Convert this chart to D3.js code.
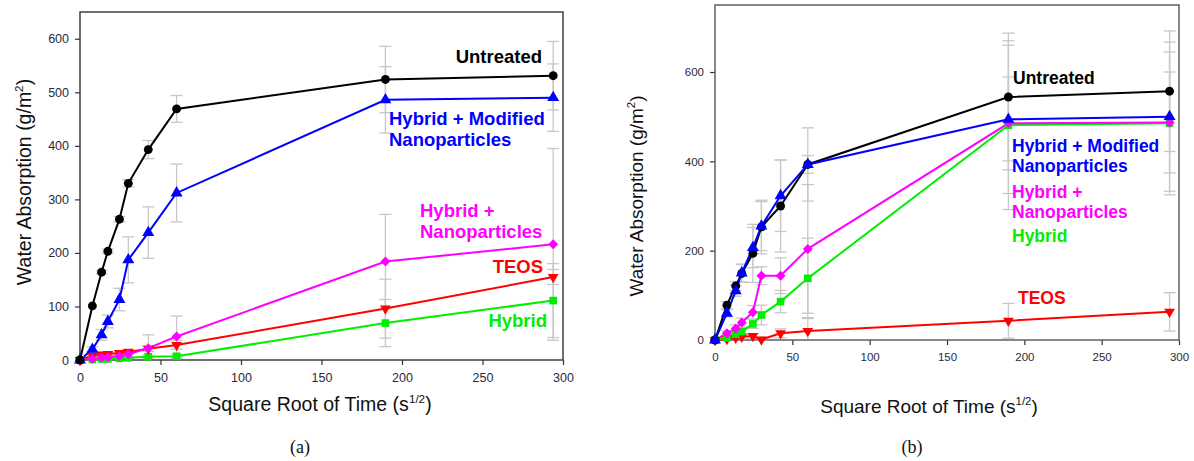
<!DOCTYPE html>
<html>
<head>
<meta charset="utf-8">
<script src="https://cdn.jsdelivr.net/npm/d3@7"></script>
<style>
  html, body { margin: 0; padding: 0; background: #fff; }
  svg { display: block; }
  text { font-family: "Liberation Sans", Arial, sans-serif; }
</style>
</head>
<body>
<svg id="chart" width="1194" height="461"></svg>
<script>
// ---------------- DATA ----------------
const xValues = [0, 7.7, 13.4, 17.3, 24.5, 30, 42.4, 60, 189.7, 293.9];
const xTicks = [0, 50, 100, 150, 200, 250, 300];
const aYTicks = [0, 100, 200, 300, 400, 500, 600];
const bYTicks = [0, 200, 400, 600];

const seriesNames = ["Untreated", "Hybrid + Modified Nanoparticles", "Hybrid + Nanoparticles", "TEOS", "Hybrid"];
const seriesColors = ["#000000", "#0000ff", "#ff00ff", "#ff0000", "#00ee00"];

// Panel (a)
const aUntreated   = [0, 101, 164, 203, 263, 330, 393, 469, 524, 531];
const aHybridMod   = [0, 20, 47, 72, 113, 187, 238, 312, 486, 490];
const aHybridNano  = [0, 2, 4, 5, 7, 11, 22, 44, 184, 216];
const aTEOS        = [0, 8, 10, 11, 13, 15, 21, 28, 96, 155];
const aHybrid      = [0, 1, 2, 2, 3, 4, 6, 7, 69, 111];
const aUntreatedErr  = [0, 0, 3, 4, 5, 7, 17, 25, 62, 64];
const aHybridModErr  = [0, 5, 10, 12, 21, 43, 48, 54, 62, 63];
const aHybridNanoErr = [0, 1, 2, 2, 3, 5, 25, 38, 88, 179];
const aTEOSErr       = [0, 2, 3, 3, 4, 4, 5, 8, 55, 14];
const aHybridErr     = [0, 1, 1, 1, 1, 2, 3, 4, 44, 69];

// Panel (b)
const bUntreated   = [0, 78, 121, 149, 194, 253, 300, 393, 544, 557];
const bHybridMod   = [0, 60, 110, 150, 207, 255, 323, 393, 494, 500];
const bHybridNano  = [0, 15, 26, 39, 62, 144, 144, 204, 485, 487];
const bTEOS        = [0, 2, 5, 7, 9, 1, 15, 20, 43, 63];
const bHybrid      = [0, 5, 13, 19, 36, 56, 86, 138, 481, 485];
const bUntreatedErr  = [0, 8, 10, 20, 65, 60, 103, 82, 143, 135];
const bHybridModErr  = [0, 8, 12, 20, 45, 55, 80, 20, 166, 167];
const bHybridNanoErr = [0, 5, 8, 10, 15, 20, 40, 144, 104, 113];
const bTEOSErr       = [0, 2, 3, 3, 5, 5, 10, 30, 39, 43];
const bHybridErr     = [0, 3, 5, 8, 10, 22, 25, 90, 189, 160];

const panelCaptions = ["(a)", "(b)"];

// ---------------- DRAWING ----------------
const svg = d3.select("#chart");
const symbols = [
  {type: d3.symbolCircle, rot: 0, size: 62},
  {type: d3.symbolTriangle, rot: 0, size: 62},
  {type: d3.symbolSquare, rot: 45, size: 50},
  {type: d3.symbolTriangle, rot: 180, size: 50},
  {type: d3.symbolSquare, rot: 0, size: 58}
];

function drawPanel(cfg) {
  const g = svg.append("g");
  const x = d3.scaleLinear().domain([0, 300]).range([cfg.left, cfg.right]);
  const y = d3.scaleLinear().domain([0, cfg.yMax]).range([cfg.bottom, cfg.top]);

  // error bars (behind)
  const eg = g.append("g").attr("stroke", "#c8c8c8").attr("stroke-width", 1.3).attr("fill", "none");
  cfg.series.forEach((s, si) => {
    s.values.forEach((v, i) => {
      const e = s.err[i];
      if (!e) return;
      const px = x(xValues[i]);
      const y1 = y(Math.min(cfg.yMax, v + e)), y2 = y(Math.max(0, v - e));
      eg.append("line").attr("x1", px).attr("x2", px).attr("y1", y1).attr("y2", y2);
      eg.append("line").attr("x1", px - 6).attr("x2", px + 6).attr("y1", y1).attr("y2", y1);
      if (v - e > 0) eg.append("line").attr("x1", px - 6).attr("x2", px + 6).attr("y1", y2).attr("y2", y2);
    });
  });

  // axes
  const xAxis = d3.axisBottom(x).tickValues(xTicks).tickSize(5).tickPadding(8);
  const yAxis = d3.axisLeft(y).tickValues(cfg.yTicks).tickSize(5).tickPadding(6);
  const xa = g.append("g").attr("transform", `translate(0,${cfg.bottom})`).call(xAxis);
  const ya = g.append("g").attr("transform", `translate(${cfg.left},0)`).call(yAxis);
  [xa, ya].forEach(a => {
    a.select(".domain").remove();
    a.selectAll(".tick line").attr("stroke", "#333").attr("stroke-width", 1.2);
    a.selectAll(".tick text").attr("fill", "#2a2a3a").style("font-size", cfg.tickFont + "px")
      .style("font-family", "'Liberation Sans', Arial, sans-serif");
  });
  // frame
  g.append("rect").attr("x", cfg.left).attr("y", cfg.top)
    .attr("width", cfg.right - cfg.left).attr("height", cfg.bottom - cfg.top)
    .attr("fill", "none").attr("stroke", cfg.frameColor).attr("stroke-width", 1.4);

  // lines + markers
  const line = d3.line().x((d, i) => x(xValues[i])).y(d => y(d));
  cfg.drawOrder.forEach(si => {
    const s = cfg.series[si];
    g.append("path").datum(s.values).attr("d", line)
      .attr("fill", "none").attr("stroke", seriesColors[si]).attr("stroke-width", 2);
  });
  cfg.drawOrder.forEach(si => {
    const s = cfg.series[si];
    const sym = symbols[si];
    g.append("g").selectAll("path").data(s.values).join("path")
      .attr("d", d3.symbol().type(sym.type).size(sym.size))
      .attr("transform", (d, i) => `translate(${x(xValues[i])},${y(d)}) rotate(${sym.rot})`)
      .attr("fill", seriesColors[si]);
  });

  // labels
  cfg.labels.forEach(l => {
    const t = g.append("text").attr("x", l.x).attr("y", l.y)
      .attr("fill", seriesColors[l.si]).attr("font-weight", "bold")
      .style("font-size", cfg.labelFont + "px").attr("text-anchor", l.anchor || "start");
    l.lines.forEach((ln, k) => {
      t.append("tspan").attr("x", l.x).attr("dy", k === 0 ? 0 : cfg.labelFont * 1.15).text(ln);
    });
  });

  // axis titles
  const xt = g.append("text").attr("x", cfg.xTitleX).attr("y", cfg.xTitleY)
    .attr("text-anchor", "middle").style("font-size", cfg.titleFont + "px").attr("fill", "#111");
  xt.append("tspan").text("Square Root of Time (s");
  xt.append("tspan").attr("dy", -8).style("font-size", (cfg.titleFont * 0.6) + "px").text("1/2");
  xt.append("tspan").attr("dy", 8).text(")");

  const yt = g.append("text").attr("transform", `translate(${cfg.yTitleX},${cfg.yTitleY}) rotate(-90)`)
    .attr("text-anchor", "middle").style("font-size", cfg.titleFont + "px").attr("fill", "#111");
  yt.append("tspan").text("Water Absorption (g/m");
  yt.append("tspan").attr("dy", -8).style("font-size", (cfg.titleFont * 0.6) + "px").text("2");
  yt.append("tspan").attr("dy", 8).text(")");

  // caption
  svg.append("text").attr("x", cfg.capX).attr("y", 453).attr("text-anchor", "middle")
    .style("font-family", "'Liberation Serif', 'DejaVu Serif', serif").style("font-size", "18px")
    .attr("fill", "#111").text(cfg.caption);
}

drawPanel({
  left: 80, right: 563, top: 12, bottom: 360, yMax: 650, yTicks: aYTicks,
  tickFont: 12.5, labelFont: 18.5, titleFont: 19.5, frameColor: "#333",
  series: [
    {values: aUntreated, err: aUntreatedErr},
    {values: aHybridMod, err: aHybridModErr},
    {values: aHybridNano, err: aHybridNanoErr},
    {values: aTEOS, err: aTEOSErr},
    {values: aHybrid, err: aHybridErr}
  ],
  drawOrder: [4, 3, 2, 1, 0],
  labels: [
    {si: 0, x: 542, y: 63, anchor: "end", lines: [seriesNames[0]]},
    {si: 1, x: 389, y: 125, lines: ["Hybrid + Modified", "Nanoparticles"]},
    {si: 2, x: 420, y: 217, lines: ["Hybrid +", "Nanoparticles"]},
    {si: 3, x: 543, y: 273, anchor: "end", lines: [seriesNames[3]]},
    {si: 4, x: 547, y: 327, anchor: "end", lines: [seriesNames[4]]}
  ],
  xTitleX: 320, xTitleY: 411, yTitleX: 31, yTitleY: 182,
  capX: 300, caption: panelCaptions[0]
});

drawPanel({
  left: 715, right: 1179, top: 5, bottom: 340, yMax: 750, yTicks: bYTicks,
  tickFont: 11.5, labelFont: 17.5, titleFont: 19, frameColor: "#555",
  series: [
    {values: bUntreated, err: bUntreatedErr},
    {values: bHybridMod, err: bHybridModErr},
    {values: bHybridNano, err: bHybridNanoErr},
    {values: bTEOS, err: bTEOSErr},
    {values: bHybrid, err: bHybridErr}
  ],
  drawOrder: [3, 4, 2, 0, 1],
  labels: [
    {si: 0, x: 1013, y: 84, lines: [seriesNames[0]]},
    {si: 1, x: 1012, y: 152, lines: ["Hybrid + Modified", "Nanoparticles"]},
    {si: 2, x: 1012, y: 198, lines: ["Hybrid +", "Nanoparticles"]},
    {si: 4, x: 1012, y: 242, lines: [seriesNames[4]]},
    {si: 3, x: 1018, y: 304, lines: [seriesNames[3]]}
  ],
  xTitleX: 929, xTitleY: 413, yTitleX: 643, yTitleY: 196,
  capX: 912, caption: panelCaptions[1]
});
</script>
</body>
</html>
